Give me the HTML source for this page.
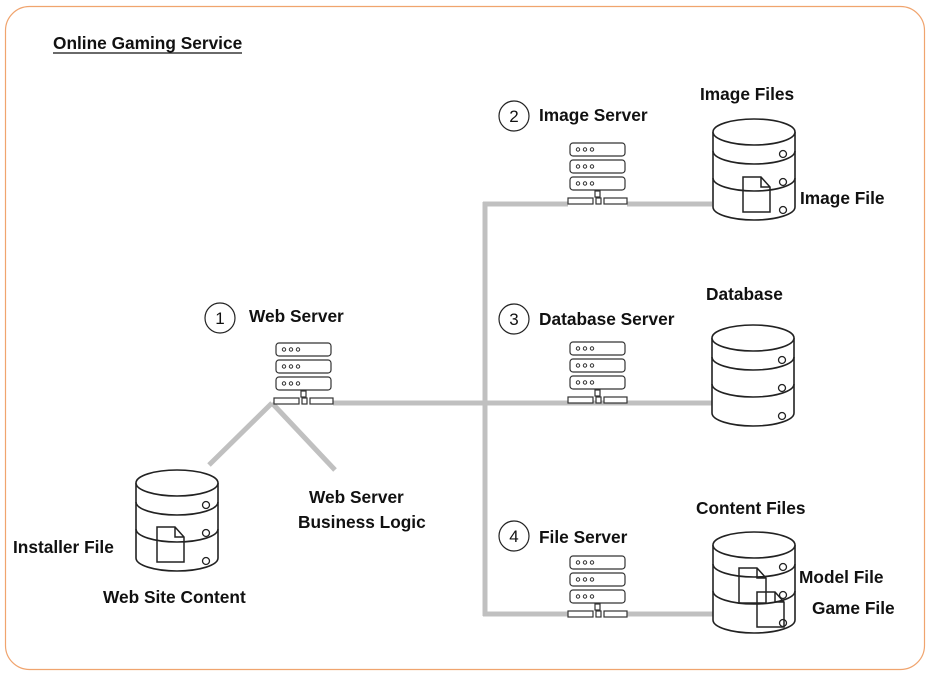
<!DOCTYPE html>
<html><head><meta charset="utf-8"><style>
html,body{margin:0;padding:0;background:#fff}
svg{display:block}
text{font-family:"Liberation Sans",sans-serif;font-weight:bold;fill:#111;font-size:17.3px}
text.n{font-weight:normal;font-size:17px}
</style></head><body>
<svg width="928" height="676" viewBox="0 0 928 676" xmlns="http://www.w3.org/2000/svg">
<defs>
<g id="srv" fill="#fff" stroke="#333" stroke-width="1.2">
<rect x="0" y="0" width="55" height="13" rx="3"/>
<rect x="0" y="17" width="55" height="13" rx="3"/>
<rect x="0" y="34" width="55" height="13" rx="3"/>
<g fill="none" stroke-width="1">
<circle cx="8" cy="6.5" r="1.7"/><circle cx="15" cy="6.5" r="1.7"/><circle cx="22" cy="6.5" r="1.7"/>
<circle cx="8" cy="23.5" r="1.7"/><circle cx="15" cy="23.5" r="1.7"/><circle cx="22" cy="23.5" r="1.7"/>
<circle cx="8" cy="40.5" r="1.7"/><circle cx="15" cy="40.5" r="1.7"/><circle cx="22" cy="40.5" r="1.7"/>
</g>
<rect x="25" y="48" width="5" height="6"/>
<rect x="-2" y="55" width="25" height="6"/>
<rect x="26" y="55" width="5" height="6"/>
<rect x="34" y="55" width="23" height="6"/>
</g>
<g id="cyl" fill="#fff" stroke="#222" stroke-width="1.6">
<path d="M0 0 V75 A41 13 0 0 0 82 75 V0"/>
<ellipse cx="41" cy="0" rx="41" ry="13"/>
<path d="M0 19 A41 13 0 0 0 82 19" fill="none"/>
<path d="M0 46 A41 13 0 0 0 82 46" fill="none"/>
<g stroke-width="1.3"><circle cx="70" cy="22" r="3.5"/><circle cx="70" cy="50" r="3.5"/><circle cx="70" cy="78" r="3.5"/></g>
</g>
<g id="doc" fill="none" stroke="#222" stroke-width="1.5">
<path d="M0 0 H18 L27 10 V35 H0 Z M18 0 V10 H27"/>
</g>
</defs>

<rect x="5.5" y="6.5" width="919" height="663" rx="24" fill="#fff" stroke="#f0a46e" stroke-width="1.2"/>

<text x="53" y="49">Online Gaming Service</text>
<line x1="53" y1="53" x2="242" y2="53" stroke="#111" stroke-width="1.3"/>

<g stroke="#c0c0c0" stroke-width="5" fill="none">
<line x1="333" y1="403" x2="714" y2="403"/>
<line x1="272" y1="403" x2="209" y2="465"/>
<line x1="272" y1="403" x2="335" y2="470"/>
<line x1="485" y1="202" x2="485" y2="616"/>
<line x1="483" y1="204" x2="568" y2="204"/>
<line x1="627" y1="204" x2="712" y2="204"/>
<line x1="483" y1="614" x2="568" y2="614"/>
<line x1="627" y1="614" x2="714" y2="614"/>
</g>

<use href="#srv" x="276" y="343"/>
<use href="#srv" x="570" y="143"/>
<use href="#srv" x="570" y="342"/>
<use href="#srv" x="570" y="556"/>

<g fill="#fff" stroke="#222" stroke-width="1.2">
<circle cx="220" cy="318" r="15"/>
<circle cx="514" cy="116" r="15"/>
<circle cx="514" cy="319" r="15"/>
<circle cx="514" cy="536" r="15"/>
</g>
<text class="n" x="220" y="324" text-anchor="middle">1</text>
<text class="n" x="514" y="122" text-anchor="middle">2</text>
<text class="n" x="514" y="325" text-anchor="middle">3</text>
<text class="n" x="514" y="542" text-anchor="middle">4</text>

<use href="#cyl" x="713" y="132"/>
<use href="#cyl" x="712" y="338"/>
<use href="#cyl" x="713" y="545"/>
<use href="#cyl" x="136" y="483"/>

<use href="#doc" x="743" y="177"/>
<use href="#doc" x="157" y="527"/>
<use href="#doc" x="739" y="568"/>
<use href="#doc" x="757" y="592"/>

<text x="249" y="322">Web Server</text>
<text x="539" y="121">Image Server</text>
<text x="539" y="325">Database Server</text>
<text x="539" y="543">File Server</text>
<text x="700" y="100">Image Files</text>
<text x="800" y="204">Image File</text>
<text x="706" y="300">Database</text>
<text x="696" y="514">Content Files</text>
<text x="799" y="583">Model File</text>
<text x="812" y="614">Game File</text>
<text x="309" y="503">Web Server</text>
<text x="298" y="528">Business Logic</text>
<text x="13" y="553">Installer File</text>
<text x="103" y="603">Web Site Content</text>
</svg>
</body></html>
